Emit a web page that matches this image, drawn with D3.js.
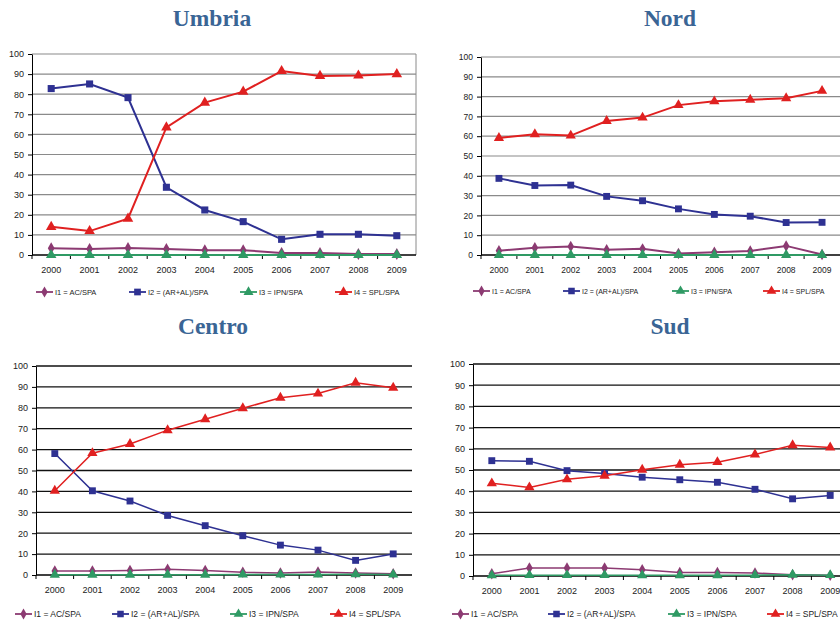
<!DOCTYPE html>
<html>
<head>
<meta charset="utf-8">
<script src="https://cdn.jsdelivr.net/npm/d3@7"></script>
<style>
  body { margin: 0; background: #fff; }
  svg text { font-family: "Liberation Sans", Arial, sans-serif; fill: #222; }
  .title { font-family: "Liberation Serif", "Times New Roman", serif !important; font-weight: bold; fill: #3a6595 !important; }
</style>
</head>
<body>
<div id="chart"></div>
<script>
// years on the x axis
const years = ["2000", "2001", "2002", "2003", "2004", "2005", "2006", "2007", "2008", "2009"];
const yTicks = [0, 10, 20, 30, 40, 50, 60, 70, 80, 90, 100];
const seriesNames = ["I1 = AC/SPA", "I2 = (AR+AL)/SPA", "I3 = IPN/SPA", "I4 = SPL/SPA"];

// Umbria
const umbriaI1 = [3.4, 3.0, 3.5, 3.0, 2.4, 2.4, 1.0, 1.0, 0.5, 0.5];
const umbriaI2 = [82.8, 85.1, 78.3, 33.7, 22.4, 16.6, 7.8, 10.3, 10.3, 9.6];
const umbriaI3 = [0, 0, 0, 0, 0, 0, 0, 0, 0, 0];
const umbriaI4 = [14.0, 11.9, 18.1, 63.5, 75.8, 81.3, 91.5, 89.1, 89.3, 90.0];

// Nord
const nordI1 = [2.2, 3.7, 4.3, 2.6, 3.1, 0.8, 1.4, 2.0, 4.6, 0.3];
const nordI2 = [38.7, 35.1, 35.3, 29.6, 27.4, 23.3, 20.5, 19.6, 16.4, 16.5];
const nordI3 = [0, 0, 0, 0, 0, 0, 0, 0, 0, 0];
const nordI4 = [59.1, 61.0, 60.3, 67.7, 69.4, 75.7, 77.6, 78.4, 79.2, 82.9];

// Centro
const centroI1 = [1.9, 1.9, 2.2, 2.8, 2.2, 1.3, 1.0, 1.4, 1.0, 0.6];
const centroI2 = [58.1, 40.3, 35.4, 28.5, 23.6, 18.8, 14.3, 11.9, 7.0, 10.1];
const centroI3 = [0.1, 0.1, 0.1, 0.1, 0.1, 0.2, 0.2, 0.2, 0.3, 0.2];
const centroI4 = [40.3, 58.3, 62.7, 69.3, 74.5, 79.8, 84.8, 86.8, 92.0, 89.6];

// Sud
const sudI1 = [1.1, 3.8, 3.8, 3.8, 3.0, 1.7, 1.7, 1.4, 0.6, 0.3];
const sudI2 = [54.4, 54.1, 49.7, 48.4, 46.6, 45.4, 44.2, 40.9, 36.4, 38.0];
const sudI3 = [0.3, 0.4, 0.4, 0.4, 0.3, 0.3, 0.3, 0.4, 0.6, 0.4];
const sudI4 = [43.7, 41.8, 45.6, 47.3, 50.1, 52.5, 53.7, 57.3, 61.7, 60.6];

const colors = ["#8c3a72", "#2e3192", "#2f9a64", "#e02020"];
const symbols = [d3.symbolDiamond, d3.symbolSquare, d3.symbolTriangle, d3.symbolTriangle];

const panels = [
    {name: "Umbria", series: [umbriaI1, umbriaI2, umbriaI3, umbriaI4],
     box: {left: 32, right: 416, top: 54, bottom: 255}, titleX: 212, titleY: 26,
     legendY: 292, legendX: [36, 129, 240, 335], grid: "#8a8a8a", gridW: 1.2, lineW: 2, rightBorder: true, fs: 9, lfs: 7.5, ms: 1},
    {name: "Nord", series: [nordI1, nordI2, nordI3, nordI4],
     box: {left: 481, right: 840, top: 57, bottom: 255}, titleX: 670, titleY: 26,
     legendY: 291, legendX: [473, 563, 672, 763], grid: "#8a8a8a", gridW: 1.2, lineW: 2, rightBorder: false, fs: 8.5, lfs: 7, ms: 0.95},
    {name: "Centro", series: [centroI1, centroI2, centroI3, centroI4],
     box: {left: 36, right: 412, top: 366, bottom: 575}, titleX: 213, titleY: 334,
     legendY: 614, legendX: [15, 112, 230, 330], grid: "#111", gridW: 1.3, lineW: 1.5, rightBorder: false, fs: 9, lfs: 8.5, ms: 0.95},
    {name: "Sud", series: [sudI1, sudI2, sudI3, sudI4],
     box: {left: 473, right: 849, top: 364, bottom: 576}, titleX: 670, titleY: 334,
     legendY: 614, legendX: [452, 548, 668, 767], grid: "#111", gridW: 1.3, lineW: 1.5, rightBorder: false, fs: 9, lfs: 8.5, ms: 0.95}
];

const svg = d3.select("#chart").append("svg")
    .attr("width", 840)
    .attr("height", 620);

panels.forEach(p => drawPanel(p));

function drawPanel(p) {
    const b = p.box;
    const g = svg.append("g");

    // scales
    const x = d3.scaleBand().domain(years).range([b.left, b.right]);
    const y = d3.scaleLinear().domain([0, 100]).range([b.bottom, b.top]);

    // title
    g.append("text")
        .attr("class", "title")
        .attr("x", p.titleX)
        .attr("y", p.titleY)
        .attr("text-anchor", "middle")
        .style("font-size", "23.5px")
        .text(p.name);

    // gridlines
    g.append("g")
        .selectAll("line")
        .data(yTicks.filter(d => d > 0))
        .join("line")
        .attr("x1", b.left).attr("x2", b.right)
        .attr("y1", d => y(d)).attr("y2", d => y(d))
        .attr("stroke", p.grid)
        .attr("stroke-width", p.gridW);

    if (p.rightBorder) {
        g.append("line")
            .attr("x1", b.right).attr("x2", b.right)
            .attr("y1", b.top).attr("y2", b.bottom)
            .attr("stroke", p.grid);
    }

    // y axis
    const yAxis = g.append("g")
        .attr("transform", `translate(${b.left},0)`)
        .call(d3.axisLeft(y).tickValues(yTicks).tickSize(4).tickSizeOuter(0).tickPadding(4));
    yAxis.selectAll("text").style("font-size", p.fs + "px");
    yAxis.selectAll("path, line").attr("stroke", "#000");

    // x axis: ticks between categories
    const xAxis = g.append("g")
        .attr("transform", `translate(0,${b.bottom})`);
    xAxis.append("line")
        .attr("x1", b.left).attr("x2", b.right)
        .attr("stroke", "#000").attr("stroke-width", 1.5);
    xAxis.selectAll(".tk")
        .data(years)
        .join("line")
        .attr("class", "tk")
        .attr("x1", d => x(d)).attr("x2", d => x(d))
        .attr("y1", 0).attr("y2", 4)
        .attr("stroke", "#000");
    xAxis.selectAll(".lb")
        .data(years)
        .join("text")
        .attr("class", "lb")
        .attr("x", d => x(d) + x.bandwidth() / 2)
        .attr("y", 18)
        .attr("text-anchor", "middle")
        .style("font-size", p.fs + "px")
        .text(d => d);

    const line = d3.line()
        .x((d, i) => x(years[i]) + x.bandwidth() / 2)
        .y(d => y(d));

    const sizes = [40, 50, 48, 48].map(s => s * p.ms);

    // series lines and markers
    p.series.forEach((vals, k) => {
        const sg = g.append("g");
        sg.append("path")
            .datum(vals)
            .attr("d", line)
            .attr("fill", "none")
            .attr("stroke", colors[k])
            .attr("stroke-width", p.lineW);
        sg.selectAll("path.m")
            .data(vals)
            .join("path")
            .attr("class", "m")
            .attr("d", d3.symbol().type(symbols[k]).size(sizes[k]))
            .attr("transform", (d, i) => `translate(${x(years[i]) + x.bandwidth() / 2},${y(d)})`)
            .attr("fill", colors[k]);
    });

    // legend
    const lg = g.append("g").attr("transform", `translate(0,${p.legendY})`);
    seriesNames.forEach((name, k) => {
        const lx = p.legendX[k];
        lg.append("line")
            .attr("x1", lx).attr("x2", lx + 17)
            .attr("stroke", colors[k])
            .attr("stroke-width", 1.8);
        lg.append("path")
            .attr("d", d3.symbol().type(symbols[k]).size(sizes[k] * 0.9))
            .attr("transform", `translate(${lx + 8.5},0)`)
            .attr("fill", colors[k]);
        lg.append("text")
            .attr("x", lx + 19)
            .attr("y", 3)
            .style("font-size", p.lfs + "px")
            .text(name);
    });
}
</script>
</body>
</html>
